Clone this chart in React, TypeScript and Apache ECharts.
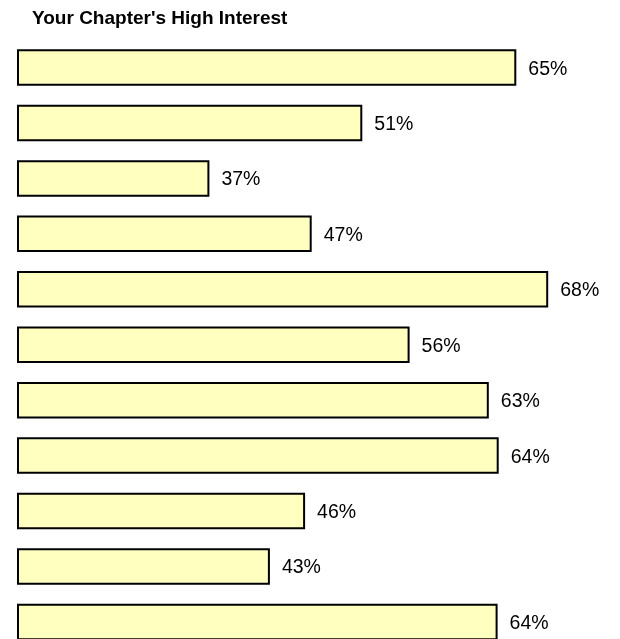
import React, { useEffect, useRef } from "react";
import * as echarts from "echarts";

const title = "Your Chapter's High Interest";
const categories = ["A", "B", "C", "D", "E", "F", "G", "H", "I", "J", "K"];
const values = [0.653, 0.513, 0.374, 0.467, 0.682, 0.556, 0.628, 0.637, 0.461, 0.429, 0.636];

export default function App() {
  const ref = useRef<HTMLDivElement>(null);
  useEffect(() => {
    if (!ref.current) return;
    const chart = echarts.init(ref.current, null, { renderer: "svg" });
    chart.setOption({
      animation: false,
      title: {
        text: title,
        left: 27,
        top: 3,
        textStyle: { fontFamily: "Liberation Sans", fontSize: 19, fontWeight: "bold", color: "#000" },
      },
      grid: { left: 18, top: 39.8, width: 550, height: 609.8, containLabel: false },
      xAxis: {
        type: "value",
        min: 0.2,
        max: 0.7,
        show: false,
      },
      yAxis: {
        type: "category",
        data: categories,
        inverse: true,
        show: false,
      },
      series: [
        {
          type: "bar",
          data: values,
          barWidth: 36.5,
          itemStyle: { color: "#FFFFC0", borderColor: "#000", borderWidth: 2 },
          label: {
            show: true,
            position: "right",
            distance: 12,
            fontFamily: "Liberation Sans",
            fontSize: 19.5,
            color: "#000",
            formatter: (p: any) => Math.round(p.value * 100) + "%",
          },
        },
      ],
    });
    return () => chart.dispose();
  }, []);
  return (
    <div style={{ position: "fixed", left: 0, top: 0, width: 620, height: 639, overflow: "hidden" }}>
      <div ref={ref} style={{ width: 620, height: 670 }} />
    </div>
  );
}
